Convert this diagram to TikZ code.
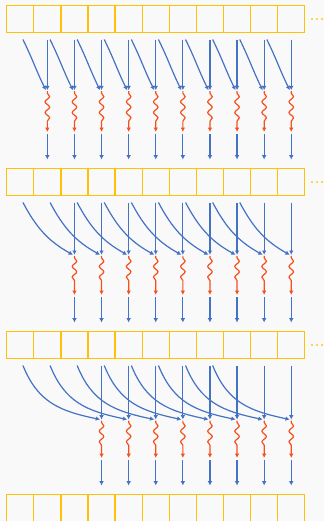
\documentclass[tikz,border=0pt]{standalone}
\usetikzlibrary{arrows.meta,decorations.pathmorphing}
\definecolor{cellgold}{RGB}{255,193,7}
\definecolor{flowblue}{RGB}{68,114,196}
\definecolor{waveorange}{RGB}{244,81,30}
\definecolor{paper}{RGB}{249,249,249}
\begin{document}
\begin{tikzpicture}[x=0.75pt,y=0.75pt,
  cellbox/.style={draw=cellgold, line width=1pt, minimum width=20.325pt,
    minimum height=20.25pt, inner sep=0pt, outer sep=0pt},
  tip/.style={-{Latex[length=3.2pt,width=3.4pt]}},
  link/.style={draw=flowblue, line width=0.9pt, tip},
  wave/.style={draw=waveorange, line width=0.9pt, tip, decorate,
    decoration={snake, amplitude=1.7pt, segment length=8pt,
      pre length=1.5pt, post length=7pt}},
  dotmark/.style={fill=cellgold!70}]
% page
\fill[paper] (0,0) rectangle (324,-521);
\useasboundingbox (0,0) rectangle (324,-521);
\clip (0,0) rectangle (324,-521);

% four arrays of eleven cells
\foreach \r in {0,...,3}{
  \foreach \i in {0,...,10}{
    \node[cellbox] (c\r-\i) at ({6.7+27.1*(\i+0.5)},{-(5.5+163*\r+13.5)}) {};
  }
}
% trailing dots after the first three arrays
\foreach \r in {0,1,2}{
  \foreach \dx in {312.3,317.3,322.3}{
    \fill[dotmark] ({\dx-1},{-(19+163*\r)-1}) rectangle +(2,2);
  }
}

% three layers: offsets 1, 2, 3
\foreach \k/\da/\oa/\ia/\lo in {1/57.7/-64/116/1.1, 2/59.3/-62/151/1, 3/61/-68/168/1.1}{
  \pgfmathsetmacro\yb{5.5+163*(\k-1)+27}
  \foreach \i in {\k,...,10}{
    \pgfmathsetmacro\xx{6.7+27.1*(\i+0.5)}
    \pgfmathsetmacro\xs{6.7+27.1*(\i-\k+0.5)+2.7}
    \coordinate (s\k-\i) at (\xx,{-(\yb+7)});
    \coordinate (q\k-\i) at (\xs,{-(\yb+7)});
    \coordinate (a\k-\i) at (\xx,{-(\yb+\da)});
    \coordinate (t\k-\i) at ({\xx-1.5},{-(\yb+\da)});
    \coordinate (u\k-\i) at (\xx,{-(\yb+\da+1)});
    \coordinate (w\k-\i) at (\xx,{-(\yb+99.4)});
    \coordinate (b\k-\i) at (\xx,{-(\yb+101.5)});
    \coordinate (e\k-\i) at (\xx,{-(\yb+127)});
    \draw[link] (s\k-\i) -- (a\k-\i);
    \draw[link] (q\k-\i) to[out=\oa,in=\ia,looseness=\lo] (t\k-\i);
    \draw[wave] (u\k-\i) -- (w\k-\i);
    \draw[link] (b\k-\i) -- (e\k-\i);
  }
}
\end{tikzpicture}
\end{document}
